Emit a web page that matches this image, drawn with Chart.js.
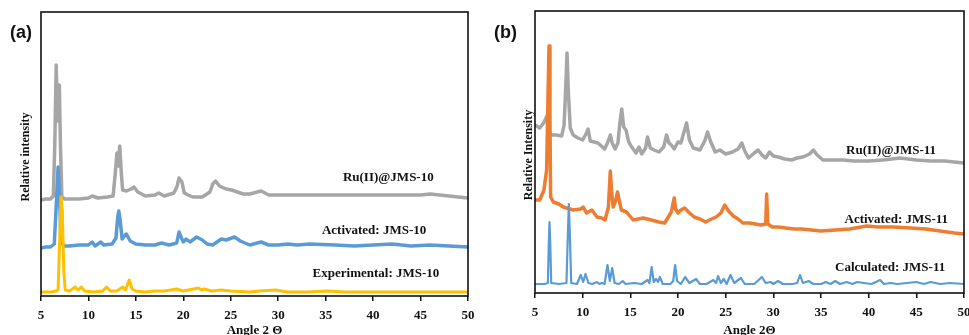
<!DOCTYPE html>
<html>
<head>
<meta charset="utf-8">
<script src="https://cdn.jsdelivr.net/npm/chart.js@4.4.0/dist/chart.umd.min.js"></script>
<style>
  html, body { margin: 0; padding: 0; background: #fff; overflow: hidden; }
  #wrapA { position: absolute; left: 0; top: 0; width: 480px; height: 335px; }
  #wrapB { position: absolute; left: 485px; top: 0; width: 484px; height: 335px; }
</style>
</head>
<body>
<div id="wrapA"><canvas id="chartA"></canvas></div>
<div id="wrapB"><canvas id="chartB"></canvas></div>
<script>
// x ticks (2 theta, degrees)
const xTicks = [5, 10, 15, 20, 25, 30, 35, 40, 45, 50];

// ---- panel (a), relative intensity (arb. units) ----
const ruJms10 = [
  [5,96],[5.5,97],[6.0,97],[6.3,100],[6.45,150],[6.6,231],[6.72,185],[6.8,175],[6.93,211],[7.05,150],[7.2,99],
  [7.5,97],[8,97],[9,97],[10,98],[10.4,100],[11,98],[12,99],[12.6,100],[12.85,125],[13.0,143],[13.12,130],
  [13.3,150],[13.45,125],[13.6,106],[14,105],[14.5,107],[14.8,109],[15.2,104],[16,100],[17,101],[17.4,103],
  [18,100],[19,103],[19.35,110],[19.55,118],[19.85,114],[20.1,103],[20.5,101],[21,99],[22,99],[22.8,104],
  [23.1,112],[23.4,115],[23.8,110],[24.5,107],[25.1,106],[26.3,102],[27,102],[28.2,105],[29,101],[30,101],
  [32,101],[33.9,101],[35,101],[38,101],[40,101],[42,101],[45,101],[46,102],[48,100],[50,98]
];
const actJms10 = [
  [5,48],[5.5,49],[6.0,49],[6.4,52],[6.6,90],[6.8,129],[6.95,100],[7.1,55],[7.4,50],[8,50],[9,51],[10,51],
  [10.4,54],[10.7,50],[11.3,54],[11.6,51],[12.5,52],[12.9,58],[13.1,80],[13.2,85],[13.35,75],[13.55,57],
  [13.8,60],[14.0,62],[14.4,55],[15,52],[16,51],[17,51],[17.7,53],[18.5,51],[19.3,53],[19.55,64],[19.8,58],
  [20.0,54],[20.3,57],[20.7,54],[21.4,59],[22,56],[22.5,52],[23.1,51],[24,57],[24.5,56],[25.4,59],[26,55],
  [26.5,53],[27,51],[28.2,54],[29,51],[30,51],[31,52],[32,51],[33.3,52],[36,51],[38,50],[40,51],[42,52],
  [44,50],[46,51],[48,50],[50,49]
];
const expJms10 = [
  [5,4],[6,4],[6.6,5],[6.8,6],[6.95,50],[7.1,99],[7.25,85],[7.4,25],[7.55,6],[8,5],[8.6,9],[8.9,6],[9.25,9],
  [9.6,5],[10.5,4],[11.5,5],[11.9,9],[12.3,5],[13,5],[13.6,9],[13.9,6],[14.3,16],[14.6,7],[15,5],[16,4],
  [17,5],[18,5],[19.3,7],[20,5],[21.6,8],[21.9,6],[22.2,7],[23,5],[24,6],[25,5],[27,4],[28,5],[29.7,6],
  [31,4],[33,4],[35.2,5],[37,4],[40,4],[45,4],[50,4]
];

// ---- panel (b), relative intensity (arb. units) ----
const ruJms11 = [
  [5,168],[5.5,165],[5.9,170],[6.25,177],[6.5,160],[6.8,158],[7.2,158],[7.8,157],[8.05,168],[8.2,200],
  [8.36,240],[8.5,200],[8.7,165],[9,158],[9.5,155],[10,153],[10.4,160],[10.57,164],[10.8,152],[11.6,150],
  [12.3,144],[12.6,150],[12.9,158],[13.1,150],[13.4,144],[13.7,150],[13.9,170],[14.1,184],[14.3,166],
  [14.55,163],[14.8,152],[15.0,148],[15.6,140],[15.9,146],[16.2,139],[16.6,145],[16.8,156],[17.1,145],
  [17.5,143],[18,141],[18.5,146],[18.8,158],[19.05,150],[19.3,148],[19.6,144],[20.0,151],[20.3,150],
  [20.6,160],[20.9,170],[21.2,153],[21.6,145],[22.3,143],[22.8,152],[23.1,161],[23.4,152],[23.9,141],
  [24.4,143],[25.0,139],[25.7,141],[26.3,144],[26.7,150],[27.0,142],[27.4,135],[28.0,140],[28.4,143],
  [28.8,138],[29.2,135],[29.6,141],[30.0,137],[30.5,136],[31.2,134],[31.9,133],[32.5,135],[33.1,136],
  [33.8,139],[34.2,143],[34.6,138],[35.2,133],[36,133],[37.3,133],[38.5,132],[40,132],[41.5,133],
  [43.3,135],[45,133],[46.5,132],[48,132],[50,130]
];
const actJms11 = [
  [5,93],[5.5,93],[5.94,103],[6.22,123],[6.35,190],[6.47,247],[6.57,170],[6.64,96],[6.92,91],[7.5,89],
  [7.97,86],[9.0,83],[9.8,84],[10.07,86],[10.4,80],[10.96,83],[11.5,76],[12.0,75],[12.35,73],[12.7,86],
  [12.9,122],[13.05,100],[13.2,86],[13.45,92],[13.66,101],[13.85,92],[14.06,83],[14.6,81],[15.3,73],
  [16.35,75],[17.2,73],[18.0,71],[18.6,70],[19.3,81],[19.6,95],[19.75,84],[20.0,80],[20.3,83],[20.7,85],
  [21.2,80],[21.7,76],[22.3,74],[22.9,71],[23.5,74],[24.0,76],[24.5,80],[24.9,88],[25.3,82],[25.8,77],
  [26.3,74],[26.8,70],[27.5,70],[28.1,69],[28.7,68],[29.2,69],[29.3,99],[29.42,69],[29.9,66],[30.5,66],
  [31.3,65],[32.2,64],[33.0,64],[34,63],[35,62],[36.5,63],[38,64],[39.8,67],[41,66],[42.5,66],[44.4,65],
  [46,64],[47.5,62],[49,60],[50,59]
];
const calcJms11 = [
  [5,9],[6.0,9],[6.35,10],[6.45,50],[6.52,71],[6.6,50],[6.7,10],[7.5,9],[8.3,10],[8.45,60],[8.55,89],
  [8.65,60],[8.8,10],[9.4,9],[9.8,18],[10.05,11],[10.3,19],[10.6,10],[11.0,9],[11.5,11],[11.75,9],[12.0,10],
  [12.3,9],[12.6,28],[12.85,12],[13.1,25],[13.35,10],[13.8,9],[14.2,12],[14.5,9],[15.4,10],[16.2,9],
  [16.8,13],[17.0,10],[17.24,26],[17.45,11],[17.7,14],[17.9,11],[18.1,16],[18.4,9],[19.2,9],[19.5,12],
  [19.7,28],[19.9,12],[20.3,9],[20.75,16],[21.2,10],[21.9,14],[22.3,9],[23.0,9],[23.7,13],[24.0,10],
  [24.2,17],[24.5,10],[24.8,14],[25.1,9],[25.5,18],[25.9,10],[26.6,15],[27.0,9],[28.0,9],[28.8,16],
  [29.2,10],[29.7,11],[30.0,9],[30.5,12],[31.0,9],[32.0,9],[32.5,10],[32.8,18],[33.1,10],[33.7,12],
  [34.2,9],[35.0,9],[35.5,11],[36.0,9],[36.5,12],[37.0,9],[37.7,11],[38.3,9],[38.8,11],[39.5,10],[40.3,9],
  [41.2,13],[41.6,9],[42.3,10],[43.0,9],[44.0,10],[45.0,11],[45.8,9],[46.5,11],[47.5,9],[48.5,10],[50,9]
];

const toXY = arr => arr.map(p => ({ x: p[0], y: p[1] }));

const serif = '"Liberation Serif", "Times New Roman", serif';

// draws frame, panel letter, y title and curve names
const decorPlugin = {
  id: 'decor',
  afterDraw(chart, args, opts) {
    const ctx = chart.ctx;
    const a = chart.chartArea;
    const xs = chart.scales.x, ys = chart.scales.y;
    ctx.save();
    ctx.strokeStyle = '#111';
    ctx.lineWidth = 1.6;
    ctx.strokeRect(a.left, a.top, a.right - a.left, a.bottom - a.top);

    ctx.fillStyle = '#111';
    ctx.font = 'bold 18px "Liberation Sans", Arial, sans-serif';
    ctx.textAlign = 'left';
    ctx.textBaseline = 'middle';
    ctx.fillText(opts.letter, opts.letterX, 33);

    ctx.save();
    ctx.translate(opts.yTitleX, (a.top + a.bottom) / 2 + 3);
    ctx.rotate(-Math.PI / 2);
    ctx.textAlign = 'center';
    ctx.font = 'bold 12px ' + serif;
    ctx.fillText(opts.yTitle, 0, 0);
    ctx.restore();

    ctx.font = 'bold 13px ' + serif;
    ctx.textAlign = 'center';
    opts.names.forEach(n => {
      ctx.fillText(n.text, xs.getPixelForValue(n.x), ys.getPixelForValue(n.y));
    });
    ctx.restore();
  }
};

function makePanel(id, sets, yMax, pad, scaleH, decor) {
  return new Chart(document.getElementById(id), {
    type: 'scatter',
    data: {
      datasets: sets.map(s => ({
        data: toXY(s.data),
        showLine: true,
        borderColor: s.color,
        borderWidth: s.width,
        borderJoinStyle: 'round',
        borderCapStyle: 'round',
        pointRadius: 0,
        tension: 0
      }))
    },
    options: {
      responsive: true,
      maintainAspectRatio: false,
      animation: false,
      layout: { padding: pad },
      plugins: { legend: { display: false }, tooltip: { enabled: false }, decor: decor },
      scales: {
        x: {
          type: 'linear',
          min: 5, max: 50,
          afterBuildTicks: sc => { sc.ticks = xTicks.map(v => ({ value: v })); },
          afterFit: sc => { sc.height = scaleH; sc.paddingLeft = 0; sc.paddingRight = 0; },
          grid: { display: true, drawOnChartArea: false, drawTicks: true, tickLength: 5, color: '#111', lineWidth: 1.5 },
          border: { display: false },
          ticks: { color: '#111', padding: 7, maxRotation: 0, autoSkip: false, font: { family: serif, size: 13, weight: 'bold' } },
          title: { display: true, text: decor.xTitle, color: '#111', padding: { top: 0, bottom: 0 }, font: { family: serif, size: 13, weight: 'bold', lineHeight: 0.6 } }
        },
        y: { display: false, min: 0, max: yMax }
      }
    },
    plugins: [decorPlugin]
  });
}

// first dataset is drawn on top
makePanel('chartA', [
  { data: expJms10, color: '#ffc000', width: 3 },
  { data: actJms10, color: '#5b9bd5', width: 3.5 },
  { data: ruJms10, color: '#a6a6a6', width: 3.5 }
], 284, { left: 41, right: 12, top: 12, bottom: 0 }, 39, {
  letter: '(a)', letterX: 10, yTitleX: 26, yTitle: 'Relative intensity', xTitle: 'Angle 2 \u0398',
  names: [
    { text: 'Ru(II)@JMS-10', x: 41.6, y: 118 },
    { text: 'Activated: JMS-10', x: 40.1, y: 65 },
    { text: 'Experimental: JMS-10', x: 40.3, y: 22 }
  ]
});

makePanel('chartB', [
  { data: calcJms11, color: '#5b9bd5', width: 2.2 },
  { data: actJms11, color: '#ed7d31', width: 3.5 },
  { data: ruJms11, color: '#a6a6a6', width: 3.5 }
], 282, { left: 50, right: 5, top: 11, bottom: 0 }, 42, {
  letter: '(b)', letterX: 9, yTitleX: 44, yTitle: 'Relative Intensity', xTitle: 'Angle 2\u0398',
  names: [
    { text: 'Ru(II)@JMS-11', x: 42.35, y: 142 },
    { text: 'Activated: JMS-11', x: 42.9, y: 73 },
    { text: 'Calculated: JMS-11', x: 42.25, y: 25 }
  ]
});
</script>
</body>
</html>
